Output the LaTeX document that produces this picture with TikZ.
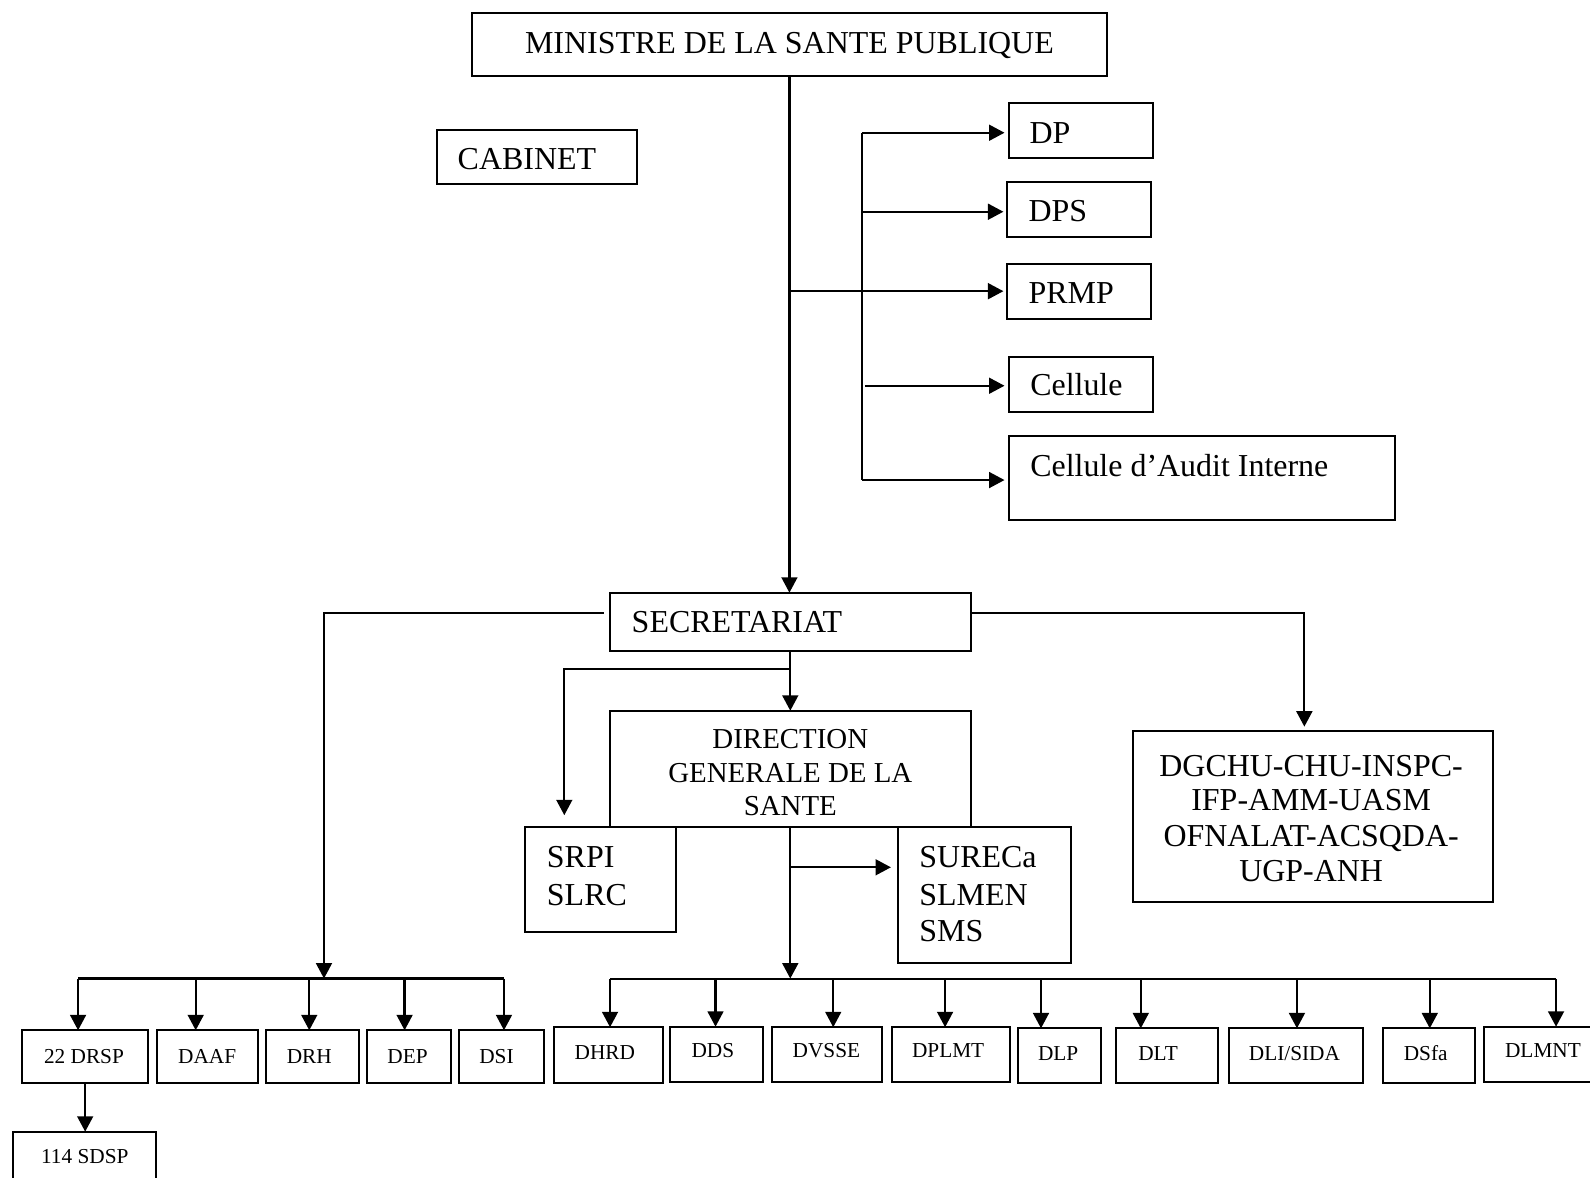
\documentclass[tikz,border=0pt]{standalone}
\usepackage{fontspec}
\setmainfont{Liberation Serif}
\usetikzlibrary{arrows.meta,fit}
\newcommand{\orgbox}[5]{\node[bx,fit={(#2,#3) (#4,#5)}] (#1) {};}
\begin{document}
\begin{tikzpicture}[x=0.5pt,y=-0.5pt,
  bx/.style={draw,line width=1pt,inner sep=0pt,outer sep=0pt},
  cn/.style={line width=1.1pt},
  ar/.style={cn,-{Triangle[length=7.6pt,width=7.8pt]}},
  big/.style={inner sep=0pt,font=\fontsize{15.75}{18}\selectfont},
  mid/.style={inner sep=0pt,font=\fontsize{14.25}{16}\selectfont},
  sml/.style={inner sep=0pt,font=\fontsize{10.5}{12}\selectfont},
]
\useasboundingbox[fill=white] (0,0) rectangle (1568,1161);

% boxes
\orgbox{min}{465.7}{12.5}{1091.3}{75}
\orgbox{cab}{431}{128.2}{628.6}{181.8}
\orgbox{dp}{994.6}{101.9}{1136.6}{156.1}
\orgbox{dps}{993.5}{179.8}{1135}{233.4}
\orgbox{prmp}{993.5}{260}{1135}{314.3}
\orgbox{cel}{994.6}{352}{1136.6}{406.3}
\orgbox{aud}{994.6}{429.7}{1375.6}{512.8}
\orgbox{sec}{601.4}{584.5}{957.3}{641.7}
\orgbox{dgs}{601.4}{700.9}{957.3}{815.3}
\orgbox{srpi}{518}{815.9}{667}{918.8}
\orgbox{sur}{885.6}{815.9}{1056.2}{950}
\orgbox{dgchu}{1117.2}{720.6}{1471.9}{889.2}
\orgbox{drsp}{22}{1016}{146}{1068}
\orgbox{daaf}{155}{1016}{254}{1068}
\orgbox{drh}{262}{1016}{354}{1068}
\orgbox{dep}{362}{1016}{445}{1068}
\orgbox{dsi}{453}{1016}{536}{1068}
\orgbox{sdsp}{13}{1116}{154}{1180}
\orgbox{dhrd}{546}{1013}{654}{1067.7}
\orgbox{dds}{661}{1012.5}{752.5}{1066.7}
\orgbox{dvsse}{761.6}{1013}{869.5}{1066.7}
\orgbox{dplmt}{880}{1013}{995.6}{1066.7}
\orgbox{dlp}{1003.5}{1014.1}{1086}{1068.3}
\orgbox{dlt}{1101}{1014.1}{1201}{1068.3}
\orgbox{dli}{1212}{1014.1}{1344}{1068.3}
\orgbox{dsfa}{1363.5}{1014.1}{1454.6}{1068.3}
\orgbox{dlmnt}{1463.6}{1012.5}{1590}{1066.7}

% texts
\node[big,anchor=base] (tmin) at (778.5,52.6) {MINISTRE DE LA SANTE PUBLIQUE};
\node[big,anchor=base west] (tcab) at (451,167.6) {CABINET};
\node[big,anchor=base west] (tdp) at (1015,141.3) {DP};
\node[big,anchor=base west] (tdps) at (1014,218.6) {DPS};
\node[big,anchor=base west] (tprmp) at (1014,299.1) {PRMP};
\node[big,anchor=base west] (tcel) at (1015.6,390.5) {Cellule};
\node[big,anchor=base west] (taud) at (1015.6,470.1) {Cellule d’Audit Interne};
\node[big,anchor=base west] (tsec) at (622.6,624) {SECRETARIAT};
\node[mid,anchor=base] (tdg1) at (779.4,738) {DIRECTION};
\node[mid,anchor=base] (tdg2) at (779.4,771.5) {GENERALE DE LA};
\node[mid,anchor=base] (tdg3) at (779.4,804.4) {SANTE};
\node[big,anchor=base west] (tsr1) at (539,855.3) {SRPI};
\node[big,anchor=base west] (tsr2) at (539,892.5) {SLRC};
\node[big,anchor=base west] (tsu1) at (906.3,855.3) {SURECa};
\node[big,anchor=base west] (tsu2) at (906.3,892.5) {SLMEN};
\node[big,anchor=base west] (tsu3) at (906.3,928.7) {SMS};
\node[big,anchor=base] (tch1) at (1293,766) {DGCHU-CHU-INSPC-};
\node[big,anchor=base] (tch2) at (1293,798.8) {IFP-AMM-UASM};
\node[big,anchor=base] (tch3) at (1293,835) {OFNALAT-ACSQDA-};
\node[big,anchor=base] (tch4) at (1293,869.5) {UGP-ANH};
\node[sml,anchor=base] (tdrsp) at (82.8,1048.6) {22 DRSP};
\node[sml,anchor=base] (tdaaf) at (204.3,1048.6) {DAAF};
\node[sml,anchor=base] (tdrh) at (305,1048.6) {DRH};
\node[sml,anchor=base] (tdep) at (401.9,1048.6) {DEP};
\node[sml,anchor=base] (tdsi) at (489.6,1048.6) {DSI};
\node[sml,anchor=base] (tsdsp) at (83.6,1147.2) {114 SDSP};
\node[sml,anchor=base] (tdhrd) at (596.5,1044.6) {DHRD};
\node[sml,anchor=base] (tdds) at (703,1042.9) {DDS};
\node[sml,anchor=base] (tdvsse) at (815,1042.9) {DVSSE};
\node[sml,anchor=base] (tdplmt) at (935,1042.9) {DPLMT};
\node[sml,anchor=base] (tdlp) at (1043.5,1045.8) {DLP};
\node[sml,anchor=base] (tdlt) at (1142,1045.8) {DLT};
\node[sml,anchor=base] (tdli) at (1276.5,1045.8) {DLI/SIDA};
\node[sml,anchor=base] (tdsfa) at (1406,1045.9) {DSfa};
\node[sml,anchor=base] (tdlmnt) at (1521.6,1042.9) {DLMNT};

% top connectors
\draw[ar] (min.south) -- (min.south |- sec.north);
\draw[ar,shorten >=2pt] (min.south |- prmp.west) -- (prmp.west);
\coordinate (bT) at (850,130.9);
\coordinate (bB) at (850,473.4);
\coordinate (bD) at (850,208.8);
\coordinate (bC) at (853,380.4);
\draw[cn] (bT) -- (bB);
\draw[ar,shorten >=2pt] (bT) -- (bT -| dp.west);
\draw[ar,shorten >=2pt] (bD) -- (bD -| dps.west);
\draw[ar,shorten >=2pt] (bC) -- (bC -| cel.west);
\draw[ar,shorten >=2pt] (bB) -- (bB -| aud.west);

% secretariat connectors
\coordinate (sL) at (319.5,604.2);
\coordinate (bL) at (319.5,965);
\draw[ar,shorten <=3pt] (sL -| sec.west) -- (sL) -- (bL);
\coordinate (sR) at (1286.3,604.2);
\draw[ar,shorten >=2pt] (sR -| sec.east) -- (sR) -- (sR |- dgchu.north);
\draw[ar] (sec.south) -- (dgs.north);
\coordinate (sA) at (556.5,660);
\draw[ar,shorten >=6pt] (sec.south |- sA) -- (sA) -- (sA |- srpi.north);

% direction connectors
\coordinate (bR) at (779.6,965);
\draw[ar] (dgs.south) -- (dgs.south |- bR);
\coordinate (sU) at (779.6,855.3);
\draw[ar,shorten >=3.5pt] (sU) -- (sU -| sur.west);

% left bus
\coordinate (l1) at (77,965);
\coordinate (l2) at (193,965);
\coordinate (l3) at (305,965);
\coordinate (l4) at (399,965);
\coordinate (l5) at (497,965);
\draw[cn] (l1) -- (l5);
\draw[ar] (l1) -- (l1 |- drsp.north);
\draw[ar] (l2) -- (l2 |- daaf.north);
\draw[ar] (l3) -- (l3 |- drh.north);
\draw[ar] (l4) -- (l4 |- dep.north);
\draw[ar] (l5) -- (l5 |- dsi.north);
\draw[ar] (drsp.south) -- (drsp.south |- sdsp.north);

% right bus
\coordinate (r1) at (601.6,965.5);
\coordinate (r2) at (705.6,965.5);
\coordinate (r3) at (821.7,965.5);
\coordinate (r4) at (932,965.5);
\coordinate (r5) at (1026.6,965.5);
\coordinate (r6) at (1125,965.5);
\coordinate (r7) at (1279,965.5);
\coordinate (r8) at (1410,965.5);
\coordinate (r9) at (1534.5,965.5);
\draw[cn] (r1) -- (r9);
\draw[ar] (r1) -- (r1 |- dhrd.north);
\draw[ar] (r2) -- (r2 |- dds.north);
\draw[ar] (r3) -- (r3 |- dvsse.north);
\draw[ar] (r4) -- (r4 |- dplmt.north);
\draw[ar] (r5) -- (r5 |- dlp.north);
\draw[ar] (r6) -- (r6 |- dlt.north);
\draw[ar] (r7) -- (r7 |- dli.north);
\draw[ar] (r8) -- (r8 |- dsfa.north);
\draw[ar] (r9) -- (r9 |- dlmnt.north);
\end{tikzpicture}
\end{document}
